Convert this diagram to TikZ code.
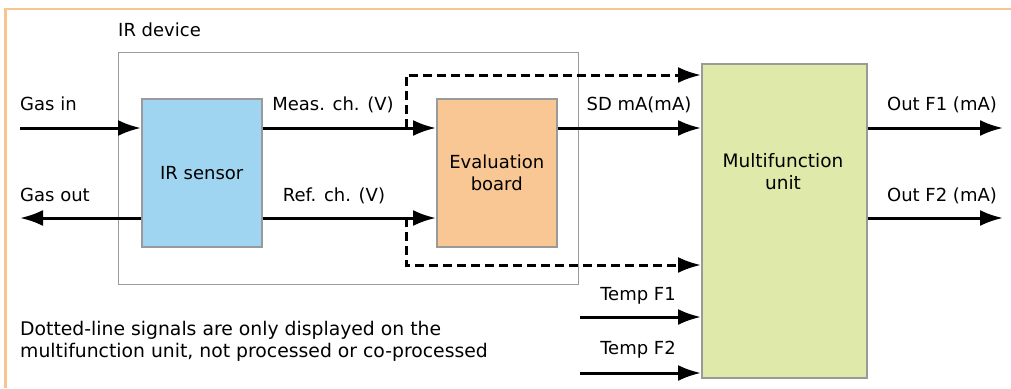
\documentclass[tikz,border=0pt]{standalone}
\usepackage{fontspec}
\setmainfont{DejaVu Sans}
\usetikzlibrary{arrows.meta}
\definecolor{frameor}{HTML}{F8C591}
\definecolor{boxgray}{HTML}{9A9A9A}
\definecolor{sensorblue}{HTML}{A0D5F2}
\definecolor{evalorange}{HTML}{F9C793}
\definecolor{mfgreen}{HTML}{DFEAAA}
\tikzset{
  blk/.style={draw=boxgray, line width=1.5pt, inner sep=0pt, align=center},
  sig/.style={line width=3pt, -{Latex[length=23pt,width=16pt]}},
  dsig/.style={sig, dash pattern=on 9pt off 5pt},
  lbl/.style={inner sep=0pt, anchor=base},
  every node/.style={font=\fontsize{18}{22}\selectfont}
}
\begin{document}
\begin{tikzpicture}[x=1pt,y=-1pt]
\useasboundingbox (0,0) rectangle (1011,388);
% outer frame
\draw[frameor, line width=2.5pt] (1011,9) -- (5.5,9) -- (5.5,388);
% IR device box
\node[draw=boxgray, line width=1.2pt, minimum width=460pt, minimum height=232pt, anchor=north west, inner sep=0pt] (dev) at (118,52) {};
\node[lbl, anchor=base west] (devlbl) at (118,36) {IR device};
% blocks
\node[blk, fill=sensorblue, minimum width=120pt, minimum height=148pt, anchor=north west] (sens) at (141,98) {IR sensor};
\node[blk, fill=evalorange, minimum width=120pt, minimum height=148pt, anchor=north west] (eval) at (436,98) {Evaluation\\board};
\node[blk, fill=mfgreen, minimum width=165pt, minimum height=314pt, anchor=north west] (mfu) at (701,63) {};
\node (mfutxt) at (783,172) [align=center, font=\fontsize{18.5}{22}\selectfont] {Multifunction\\unit};
% coordinates
\coordinate (gasin) at (20,128);
\coordinate (gasout) at (20,218);
\coordinate (o1) at (1003,128);
\coordinate (o2) at (1003,218);
\coordinate (t1) at (580,317);
\coordinate (t2) at (580,373);
\coordinate (dt) at (406,128);
\coordinate (db) at (406,218);
% signals
\draw[sig] (gasin) -- (gasin -| sens.west);
\draw[sig] (gasout -| sens.west) -- (gasout);
\draw[sig] (sens.east |- dt) -- (eval.west |- dt);
\draw[sig] (sens.east |- db) -- (eval.west |- db);
\draw[sig] (eval.east |- dt) -- (mfu.west |- dt);
\draw[sig] (mfu.east |- o1) -- (o1);
\draw[sig] (mfu.east |- o2) -- (o2);
\draw[sig] (t1) -- (t1 -| mfu.west);
\draw[sig] (t2) -- (t2 -| mfu.west);
\draw[dsig] (dt) -- (406,75) -- (mfu.west |- 0,75);
\draw[dsig] (db) -- (406,265) -- (mfu.west |- 0,265);
% labels
\node[lbl, anchor=base west] (lgin) at (20,110) {Gas in};
\node[lbl, anchor=base west] (lgout) at (20,201) {Gas out};
\node[lbl] (lmeas) at (333,110) {Meas. ch. (V)};
\node[lbl] (lref) at (334,201) {Ref. ch. (V)};
\node[lbl] (lsd) at (639,110) {SD mA(mA)};
\node[lbl] (lo1) at (942,110) {Out F1 (mA)};
\node[lbl] (lo2) at (942,201) {Out F2 (mA)};
\node[lbl] (lt1) at (638,300) {Temp F1};
\node[lbl] (lt2) at (638,354) {Temp F2};
\node[anchor=north west, inner sep=0pt, align=left, font=\fontsize{18.8}{22}\selectfont] (note) at (20,321) {Dotted-line signals are only displayed on the\\multifunction unit, not processed or co-processed};
\end{tikzpicture}
\end{document}
